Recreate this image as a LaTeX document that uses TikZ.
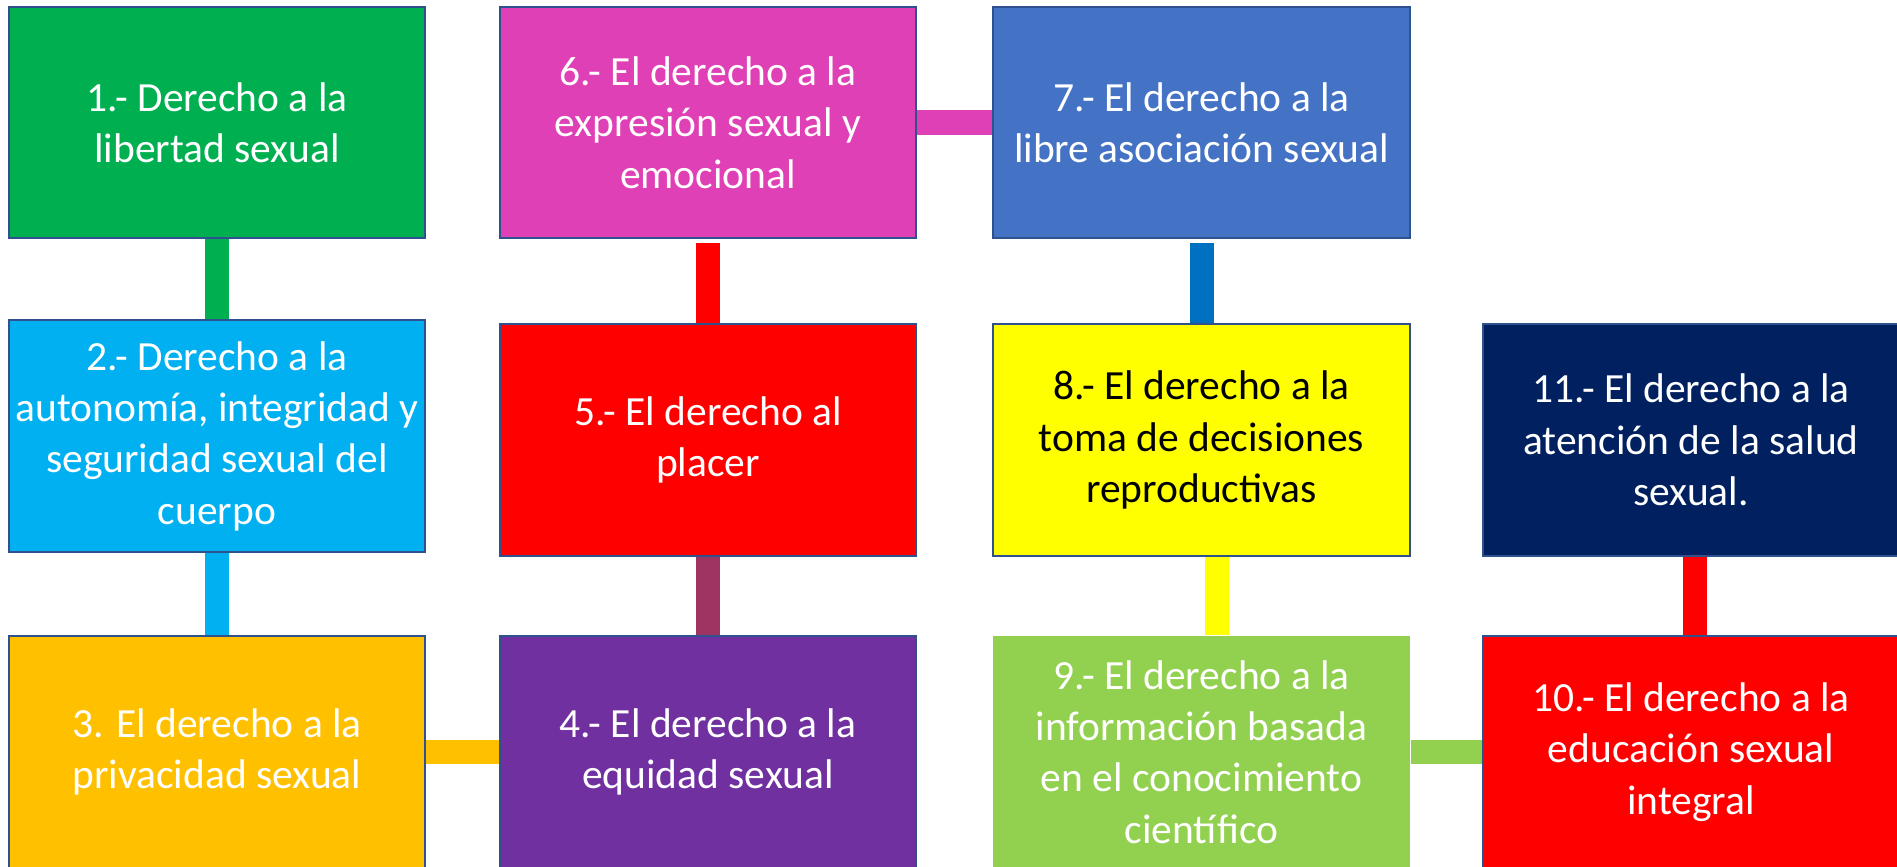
\documentclass[tikz,border=0pt]{standalone}
\usepackage{fontspec}
\setmainfont{Carlito}
\usepackage{tikz}

\definecolor{borde}{RGB}{47,82,143}
\definecolor{verde}{RGB}{0,176,80}
\definecolor{celeste}{RGB}{0,176,240}
\definecolor{ambar}{RGB}{255,192,0}
\definecolor{morado}{RGB}{112,48,160}
\definecolor{rojo}{RGB}{255,0,0}
\definecolor{rosa}{RGB}{224,64,182}
\definecolor{azul}{RGB}{68,114,196}
\definecolor{azulfuerte}{RGB}{0,112,192}
\definecolor{amarillo}{RGB}{255,255,0}
\definecolor{verdeclaro}{RGB}{146,208,80}
\definecolor{marino}{RGB}{0,32,96}
\definecolor{granate}{RGB}{158,52,98}

\begin{document}
\begin{tikzpicture}[x=0.01cm, y=-0.01cm,
  derecho/.style={draw=borde, line width=0.6pt, minimum width=4.16cm, minimum height=2.31cm,
    inner sep=0pt, align=center, text=white, font=\fontsize{11.8}{14.6}\selectfont},
  enlace/.style={line width=0.24cm}]

\useasboundingbox (0,0) rectangle (1897,867);

%Derechos
\node[derecho, fill=verde] (d1) at (217,122.5) {1.- Derecho a la\\libertad sexual};
\node[derecho, fill=rosa] (d6) at (708,122.5) {6.- El derecho a la\\expresión sexual y\\emocional};
\node[derecho, fill=azul] (d7) at (1201.5,122.5) {7.- El derecho a la\\libre asociación sexual};

\node[derecho, fill=celeste] (d2) at (217,436) {2.- Derecho a la\\autonomía, integridad y\\seguridad sexual del\\cuerpo};
\node[derecho, fill=rojo] (d5) at (708,440) {5.- El derecho al\\placer};
\node[derecho, fill=amarillo, text=black] (d8) at (1201.5,440) {8.- El derecho a la\\toma de decisiones\\reproductivas};
\node[derecho, fill=marino] (d11) at (1691,440) {11.- El derecho a la\\atención de la salud\\sexual.};

\node[derecho, fill=ambar] (d3) at (217,752) {3. El derecho a la\\privacidad sexual};
\node[derecho, fill=morado] (d4) at (708,752) {4.- El derecho a la\\equidad sexual};
\node[derecho, fill=verdeclaro, draw=none] (d9) at (1201.5,752) {9.- El derecho a la\\información basada\\en el conocimiento\\científico};
\node[derecho, fill=rojo] (d10) at (1691,752) {10.- El derecho a la\\educación sexual\\integral};

%Enlaces
\draw[enlace, verde] (d1) -- (d2);
\draw[enlace, celeste] (d2) -- (d3);
\draw[enlace, ambar] (d3) -- (d4);
\draw[enlace, granate] (d5) -- (d4);
\draw[enlace, rojo] ([yshift=-0.04cm]d6.south) -- (d5);
\draw[enlace, rosa] (d6) -- (d7);
\draw[enlace, azulfuerte] ([yshift=-0.04cm]d7.south) -- (d8);
\draw[enlace, amarillo] ([xshift=0.15cm]d8.south) -- ([xshift=0.15cm]d9.north);
\draw[enlace, verdeclaro] (d9) -- (d10);
\draw[enlace, rojo] ([xshift=0.04cm]d11.south) -- ([xshift=0.04cm]d10.north);

\end{tikzpicture}
\end{document}
